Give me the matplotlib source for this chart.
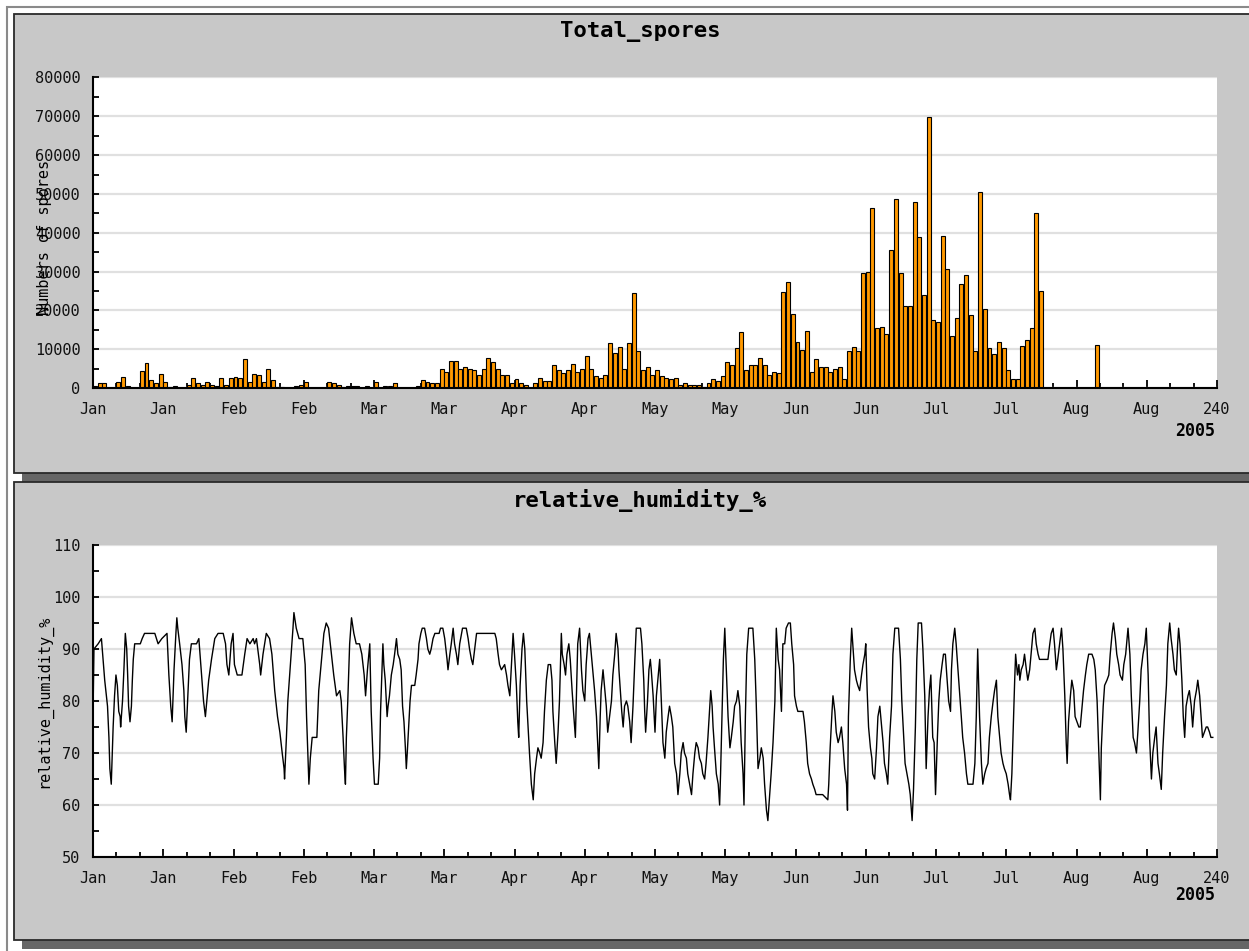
import numpy as np
import matplotlib
matplotlib.use("Agg")
import matplotlib.pyplot as plt
from matplotlib.patches import Rectangle
from matplotlib.ticker import MultipleLocator

W, H = 1249, 951
MONO = "DejaVu Sans Mono"

# daily spore counts, day 0 .. 214
spore_counts = [
    500, 1200, 1200, 0, 0, 1600, 2900, 400, 0, 0,
    4500, 6500, 2100, 1200, 3700, 1600, 200, 400, 0, 100,
    900, 2500, 1200, 900, 1600, 900, 400, 2500, 900, 2500,
    2900, 2500, 7400, 1600, 3700, 3300, 1600, 4900, 2100, 200,
    300, 0, 0, 400, 900, 1600, 0, 0, 0, 0,
    1600, 1200, 900, 200, 400, 600, 400, 0, 400, 0,
    1500, 0, 400, 400, 1200, 0, 0, 0, 0, 400,
    2100, 1600, 1200, 1200, 4900, 4000, 7000, 7000, 4900, 5300,
    5000, 4600, 3400, 5000, 7800, 6600, 5000, 3400, 3400, 1300,
    2200, 1300, 900, 100, 1300, 2600, 1700, 1700, 5900, 4600,
    3800, 4600, 6300, 4100, 5000, 8300, 5000, 3000, 2600, 3400,
    11500, 9000, 10600, 5000, 11500, 24400, 9500, 4600, 5400, 3400,
    4600, 3000, 2600, 2200, 2600, 900, 1300, 900, 900, 900,
    300, 1300, 2200, 1700, 3000, 6600, 5900, 10300, 14300, 4600,
    5900, 5900, 7800, 5900, 3400, 4100, 3800, 24700, 27200, 19100,
    11900, 9800, 14700, 4100, 7500, 5400, 5400, 4100, 5000, 5400,
    2200, 9500, 10600, 9500, 29700, 29800, 46400, 15400, 15800, 13900,
    35600, 48800, 29600, 21000, 21000, 48000, 38800, 24000, 69800, 17600,
    17100, 39200, 30700, 13500, 18000, 26800, 29100, 18700, 9600, 50600,
    20400, 10300, 8700, 11800, 10300, 4700, 2300, 2300, 10700, 12400,
    15400, 45200, 25100, 0, 0, 0, 0, 0, 0, 0,
    0, 0, 0, 0, 11100,
]
spore_days = np.arange(len(spore_counts))

# relative humidity readings (day of season, %)
rh_day = [
    0.0, 0.2, 1.1, 1.8, 2.5, 3.1, 3.4, 3.6, 3.9, 4.3,
    4.6, 4.9, 5.2, 5.5, 5.8, 5.9, 6.3, 6.6, 6.9, 7.2,
    7.4, 7.6, 7.9, 8.2, 8.4, 8.6, 8.9, 9.6, 10.1, 10.5,
    11.0, 13.2, 13.9, 14.7, 15.8, 16.2, 16.6, 16.9, 17.3, 17.7,
    17.9, 18.1, 18.5, 19.0, 19.4, 19.6, 19.9, 20.3, 20.6, 21.0,
    22.1, 22.6, 23.1, 23.6, 24.0, 24.3, 24.7, 25.3, 26.0, 26.7,
    27.8, 28.3, 28.6, 29.0, 29.5, 29.9, 30.2, 30.8, 31.8, 32.4,
    32.9, 33.5, 34.2, 34.5, 34.9, 35.6, 35.8, 36.3, 37.0, 37.7,
    38.2, 38.8, 39.4, 39.9, 40.4, 40.8, 40.9, 41.3, 41.6, 42.0,
    42.7, 42.9, 43.4, 44.0, 44.8, 45.3, 45.6, 45.9, 46.1, 46.4,
    46.8, 47.8, 48.2, 48.8, 49.3, 49.8, 50.3, 50.9, 51.4, 52.0,
    52.7, 53.0, 53.4, 53.7, 53.9, 54.1, 54.4, 54.8, 55.2, 55.7,
    56.2, 56.9, 57.4, 57.9, 58.2, 58.6, 58.9, 59.1, 59.4, 59.8,
    60.1, 60.9,
    61.2, 61.4, 61.7, 61.9, 62.1, 62.4, 62.8, 63.0, 63.3, 63.7,
    64.1, 64.4, 64.8, 65.1, 65.5, 65.8, 66.1, 66.4, 66.7, 66.9,
    67.1, 67.4, 67.7, 68.0, 68.7, 69.0, 69.4, 69.6, 70.0, 70.3,
    70.8, 71.2, 71.5, 71.9, 72.2, 72.6, 73.0, 73.9, 74.2, 74.7,
    75.1, 75.6, 75.8, 76.2, 76.5, 76.9, 77.2, 77.6, 77.9, 78.3,
    78.9, 79.7, 80.1, 80.4, 80.8, 81.1, 81.5, 81.9, 82.2, 85.8,
    86.1, 86.5, 86.8, 87.2, 87.9, 88.3, 88.6, 89.0, 89.3, 89.7,
    90.0, 90.4, 90.7, 90.9, 91.2, 91.6, 91.9, 92.2, 92.6, 92.9,
    93.2, 93.6, 94.0, 94.3, 94.7, 95.0, 95.4, 95.7, 96.1, 96.4,
    96.8, 97.2, 97.7, 98.0, 98.2, 98.6, 98.9, 99.3, 99.6, 100.0,
    100.2, 100.6, 100.9, 101.2, 101.6, 101.9, 102.3, 102.6, 103.0, 103.3,
    103.5, 103.9, 104.3, 104.6, 105.0, 105.3, 105.7, 106.0, 106.4, 106.8,
    107.1, 107.5, 107.8, 108.0, 108.3, 108.5, 108.9, 109.2, 109.6, 109.9,
    110.3, 110.7, 111.0, 111.4, 111.7, 112.1, 112.3, 112.6, 112.9, 113.2,
    113.5, 113.9, 114.2, 114.6, 114.9, 115.3, 115.7, 116.0, 116.9, 117.2,
    117.6, 117.8, 118.0, 118.4, 118.7, 119.0, 119.2, 119.6, 120.0, 120.3,
    120.6,
    121.0, 121.4, 121.7, 122.1, 122.4, 122.8, 123.1, 123.5, 123.8, 124.2,
    124.6, 124.9, 125.3, 125.6, 126.0, 126.3, 126.7, 127.0, 127.4, 127.8,
    128.1, 128.5, 128.8, 129.2, 129.5, 129.9, 130.2, 130.6, 130.9, 131.3,
    131.7, 131.9, 132.2, 132.4, 132.7, 133.1, 133.5, 133.8, 134.0, 134.3,
    134.6, 134.9, 135.1, 135.4, 135.6, 136.0, 136.3, 136.7, 137.0, 137.4,
    137.7, 138.1, 138.4, 138.8, 139.0, 139.3, 139.6, 140.0, 140.9, 141.3,
    141.6, 142.0, 142.4, 142.7, 143.1, 143.4, 143.8, 144.1, 144.5, 144.8,
    145.2, 145.6, 145.9, 146.3, 146.6, 147.0, 147.3, 147.7, 148.0, 148.5,
    148.9, 149.2, 149.6, 149.8, 150.2, 150.5, 150.9, 151.6, 151.9, 152.3,
    152.6, 153.0, 153.4, 153.7, 154.1, 154.4, 154.8, 155.8, 156.9, 157.1,
    157.4, 157.8, 158.0, 158.4, 158.7, 159.1, 159.4, 159.8, 160.1, 160.5,
    160.9, 161.1, 161.3, 161.7, 162.0, 162.3, 162.6, 163.0, 163.3, 163.7,
    164.1, 164.4, 164.8, 165.0, 165.3, 165.6, 166.0, 166.3, 166.5, 166.9,
    167.3, 167.6, 168.0, 168.3, 168.7, 169.0, 169.4, 169.7, 170.1, 170.5,
    170.8, 171.2, 172.0, 172.4, 172.7, 173.1, 173.4, 173.8, 174.2, 174.5,
    174.9, 175.2, 175.6, 175.9, 176.2, 176.9, 177.2, 177.6, 177.9, 178.3,
    178.6, 178.9, 179.3, 179.6, 179.9,
    180.3, 180.6, 180.9, 181.3, 181.6, 182.0, 182.3, 182.7, 183.1, 183.3,
    183.6, 184.0, 184.3, 184.7, 185.0, 185.4, 185.7, 186.1, 186.5, 186.8,
    187.9, 188.3, 188.6, 188.9, 189.3, 189.7, 190.0, 190.4, 190.7, 191.1,
    191.4, 191.8, 192.2, 192.5, 192.9, 193.2, 193.6, 193.9, 194.3, 194.6,
    195.0, 195.4, 195.7, 195.9, 196.2, 196.5, 196.8, 197.0, 197.4, 197.7,
    197.9, 198.2, 198.6, 198.9, 199.3, 199.6, 200.0, 200.3, 200.7, 201.1,
    201.4, 201.8, 202.1, 203.9, 204.3, 204.6, 205.0, 205.3, 205.7, 206.0,
    206.4, 206.8, 207.1, 207.5, 207.8, 208.0, 208.3, 208.7, 209.0, 209.4,
    209.7, 210.1, 210.5, 210.8, 211.2, 211.5, 211.9, 212.2, 212.6, 212.9,
    213.3, 213.7, 214.0, 214.4, 214.7, 215.1, 215.3, 215.7, 216.0, 216.5,
    216.9, 217.2, 217.6, 217.9, 218.3, 218.6, 219.0, 219.3, 219.8, 220.1,
    220.5, 220.8, 221.0, 221.4, 221.7, 222.1, 222.4, 222.8, 223.1, 223.5,
    223.8, 224.2, 224.6, 224.9, 225.3, 225.6, 226.0, 226.3, 226.7, 227.0,
    227.4, 227.7, 228.1, 228.4, 228.8, 229.2, 229.5, 229.9, 230.2, 230.6,
    230.9, 231.3, 231.6, 231.8, 232.1, 232.5, 232.8, 233.1, 233.4, 233.8,
    234.1, 234.5, 234.8, 235.2, 235.6, 235.9, 236.3, 236.6, 236.9, 237.3,
    237.7, 238.0, 238.4, 238.7, 239.1,
]
rh_val = [
    77, 90, 91, 92, 84, 79, 73, 67, 64, 75,
    81, 85, 83, 78, 77, 75, 80, 86, 93, 90,
    85, 79, 76, 79, 84, 88, 91, 91, 91, 92,
    93, 93, 91, 92, 93, 85, 79, 76, 86, 93,
    96, 94, 91, 87, 82, 77, 74, 82, 88, 91,
    91, 92, 86, 80, 77, 80, 84, 88, 92, 93,
    93, 91, 87, 85, 91, 93, 87, 85, 85, 89,
    92, 91, 92, 91, 92, 87, 85, 89, 93, 92,
    89, 82, 77, 74, 70, 67, 65, 73, 80, 85,
    94, 97, 94, 92, 92, 87, 77, 69, 64, 69,
    73, 73, 82, 88, 93, 95, 94, 89, 85, 81,
    82, 80, 73, 67, 64, 73, 80, 91, 96, 93,
    91, 91, 89, 85, 81, 86, 89, 91, 78, 69,
    64, 64,
    69, 78, 86, 91, 87, 84, 77, 79, 81, 85,
    87, 89, 92, 89, 88, 86, 79, 76, 71, 67,
    70, 75, 80, 83, 83, 85, 88, 91, 93, 94,
    94, 92, 90, 89, 90, 92, 93, 93, 94, 94,
    92, 88, 86, 89, 91, 94, 91, 89, 87, 91,
    94, 94, 92, 90, 88, 87, 90, 93, 93, 93,
    92, 89, 87, 86, 87, 85, 83, 81, 86, 93,
    89, 83, 76, 73, 83, 90, 93, 90, 80, 75,
    70, 64, 61, 66, 69, 71, 70, 69, 72, 78,
    84, 87, 87, 84, 78, 72, 68, 74, 80, 93,
    89, 87, 85, 89, 91, 88, 82, 78, 73, 84,
    91, 94, 86, 82, 80, 87, 92, 93, 89, 85,
    82, 77, 71, 67, 77, 82, 86, 83, 79, 74,
    77, 80, 85, 89, 93, 90, 86, 82, 78, 75,
    79, 80, 79, 76, 72, 79, 88, 94, 94, 91,
    84, 78, 74, 80, 86, 88, 86, 81, 74, 81,
    84,
    88, 79, 72, 69, 74, 77, 79, 77, 75, 68,
    66, 62, 66, 70, 72, 70, 69, 66, 64, 62,
    66, 70, 72, 71, 69, 68, 66, 65, 68, 73,
    79, 82, 79, 75, 71, 66, 64, 60, 66, 77,
    88, 94, 89, 82, 77, 71, 73, 76, 79, 80,
    82, 79, 72, 66, 60, 77, 89, 94, 94, 88,
    80, 67, 69, 71, 69, 64, 59, 57, 62, 66,
    72, 80, 94, 88, 86, 78, 91, 91, 94, 95,
    95, 91, 87, 81, 79, 78, 78, 78, 76, 72,
    68, 66, 65, 64, 63, 62, 62, 62, 61, 64,
    71, 78, 81, 78, 74, 72, 73, 75, 72, 67,
    64, 59, 77, 88, 94, 90, 86, 84, 83, 82,
    85, 87, 89, 91, 82, 75, 71, 69, 66, 65,
    71, 77, 79, 76, 72, 68, 66, 64, 73, 79,
    89, 94, 94, 88, 80, 73, 68, 66, 64, 62,
    57, 63, 75, 88, 95, 95, 90, 81, 67, 77,
    82, 85, 73, 72, 62,
    73, 80, 84, 87, 89, 89, 85, 80, 78, 86,
    91, 94, 91, 86, 82, 77, 73, 70, 66, 64,
    64, 68, 77, 90, 77, 68, 64, 66, 67, 68,
    73, 77, 80, 82, 84, 77, 73, 70, 68, 67,
    66, 64, 62, 61, 66, 75, 84, 89, 85, 87,
    84, 86, 87, 89, 86, 84, 86, 89, 93, 94,
    91, 89, 88, 88, 91, 93, 94, 91, 86, 88,
    91, 94, 90, 81, 72, 68, 76, 81, 84, 82,
    77, 76, 75, 75, 79, 82, 85, 87, 89, 89,
    89, 88, 86, 80, 72, 61, 71, 79, 83, 84,
    85, 89, 93, 95, 92, 89, 87, 85, 84, 87,
    89, 92, 94, 89, 81, 73, 72, 70, 74, 80,
    86, 89, 91, 94, 85, 73, 65, 70, 73, 75,
    68, 66, 63, 70, 77, 83, 91, 95, 92, 89,
    86, 85, 91, 94, 91, 84, 77, 73, 79, 81,
    82, 79, 75, 80, 82, 84, 81, 77, 73, 74,
    75, 75, 74, 73, 73,
]

tick_days = np.arange(0, 241, 15)
tick_names = ["Jan", "Jan", "Feb", "Feb", "Mar", "Mar", "Apr", "Apr", "May",
              "May", "Jun", "Jun", "Jul", "Jul", "Aug", "Aug", "240"]


def px_box(x0, y0, x1, y1):
    # pixel box (top-left origin) -> figure fraction [left, bottom, w, h]
    return [x0 / W, 1 - y1 / H, (x1 - x0) / W, (y1 - y0) / H]


def add_rect(x0, y0, x1, y1, z, **kw):
    l, b, w, h = px_box(x0, y0, x1, y1)
    r = Rectangle((l, b), w, h, transform=fig.transFigure, zorder=z, **kw)
    fig.add_artist(r)


fig = plt.figure(figsize=(W / 100, H / 100), dpi=100)
fig.patch.set_facecolor("white")

# outer frame line
add_rect(7, 7, 1300, 1000, -20, fill=False, ec="#8a8a8a", lw=1.5)

# two grey panels with drop shadows
for (y0, y1) in [(14, 473), (482, 940)]:
    add_rect(22, y0 + 9, 1300, y1 + 9, -15, fc="#666666", ec="none")
    add_rect(14, y0, 1300, y1, -10, fc="#c8c8c8", ec="#2a2a2a", lw=1.3)

ax1 = fig.add_axes(px_box(93, 77.5, 1217, 388))
ax2 = fig.add_axes(px_box(93, 545, 1217, 857))

ax1.bar(spore_days, spore_counts, width=0.85, align="edge",
        color="#ff9900", edgecolor="black", linewidth=0.8, zorder=3)
ax1.set_ylim(0, 80000)
ax1.set_yticks(np.arange(0, 80001, 10000))
ax1.yaxis.set_minor_locator(MultipleLocator(5000))

ax2.plot(rh_day, rh_val, color="black", lw=1.0, zorder=3)
ax2.set_ylim(50, 110)
ax2.set_yticks(np.arange(50, 111, 10))
ax2.yaxis.set_minor_locator(MultipleLocator(5))

for ax in (ax1, ax2):
    ax.set_facecolor("white")
    ax.set_xlim(0, 240)
    ax.set_xticks(tick_days)
    ax.set_xticklabels(tick_names)
    ax.xaxis.set_minor_locator(MultipleLocator(5))
    ax.yaxis.grid(True, color="#e0e0e0", lw=1.6)
    ax.set_axisbelow(True)
    for s in ("top", "right"):
        ax.spines[s].set_visible(False)
    for s in ("left", "bottom"):
        ax.spines[s].set_linewidth(1.5)
        ax.spines[s].set_zorder(4)
    ax.tick_params(axis="x", which="major", direction="in", length=6,
                   width=1.3, pad=10)
    ax.tick_params(axis="x", which="minor", direction="in", length=3.5,
                   width=1.3)
    ax.tick_params(axis="y", which="both", direction="in", length=4.5,
                   width=1.3, pad=9)
    for lab in ax.get_xticklabels() + ax.get_yticklabels():
        lab.set_family(MONO)
        lab.set_fontsize(11)
        lab.set_color("#111111")

fig.text(640 / W, 1 - 32 / H, "Total_spores", ha="center", va="center",
         family=MONO, fontsize=16, weight="bold")
fig.text(640 / W, 1 - 501 / H, "relative_humidity_%", ha="center",
         va="center", family=MONO, fontsize=16, weight="bold")

fig.text(45 / W, 1 - 237 / H, "Numbers of spores", rotation=90,
         ha="center", va="center", family=MONO, fontsize=11)
fig.text(44 / W, 1 - 701 / H, "relative_humidity_%", rotation=90,
         ha="center", va="center", family=MONO, fontsize=11)

fig.text(1215 / W, 1 - 431 / H, "2005", ha="right", va="center",
         family=MONO, fontsize=12, weight="bold")
fig.text(1215 / W, 1 - 895 / H, "2005", ha="right", va="center",
         family=MONO, fontsize=12, weight="bold")

fig.savefig("out.png", dpi=100)
